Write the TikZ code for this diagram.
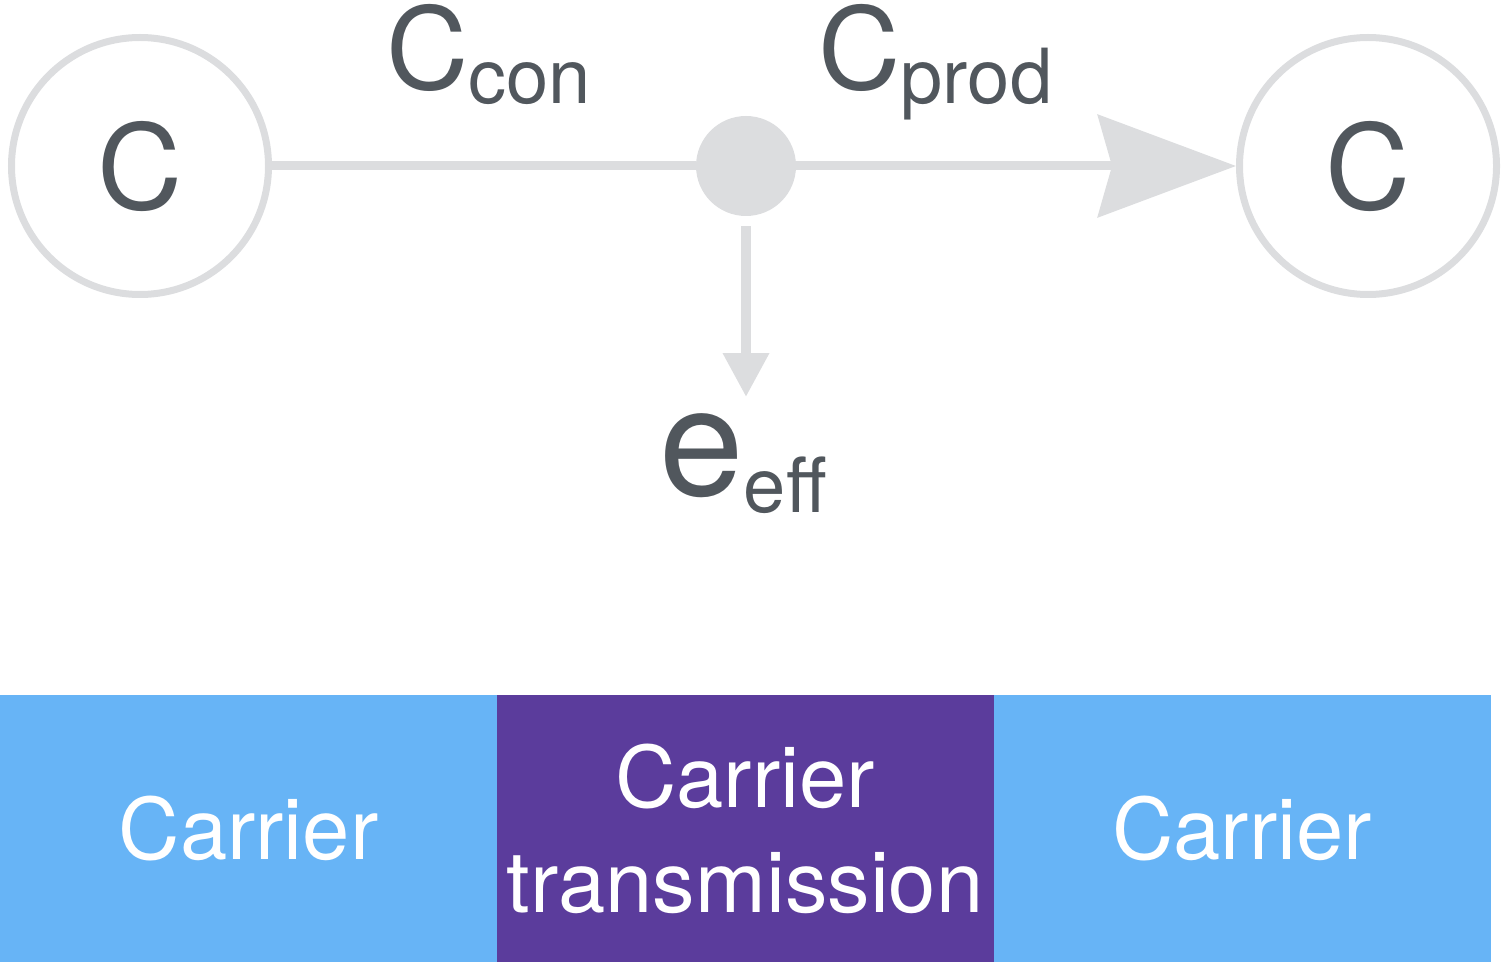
\documentclass[tikz,border=0pt]{standalone}
\usepackage{fontspec}
\setmainfont{TeX Gyre Heros}
\usetikzlibrary{arrows.meta}
\definecolor{lgray}{HTML}{DCDDDF}
\definecolor{tgray}{HTML}{51575D}
\definecolor{cblue}{HTML}{67B4F6}
\definecolor{cpurple}{HTML}{5B3C9C}
\begin{document}
\begin{tikzpicture}[x=0.5pt,y=-0.5pt,
 circ/.style={circle,draw=lgray,line width=3.5pt,minimum size=128.5pt,inner sep=0pt,text=tgray,font=\fontsize{59}{59}\selectfont},
 lbl/.style={anchor=base west,inner sep=0pt,text=tgray,font=\fontsize{57}{57}\selectfont},
 bar/.style={minimum width=248.5pt,minimum height=133.5pt,inner sep=0pt,text=white,align=center,font=\fontsize{42.5}{52.5}\selectfont},
 conn/.style={draw=lgray,line width=4.5pt}]
\useasboundingbox (0,0) rectangle (1502,962);
\node[circ] (L) at (140,166) {C};
\node[circ] (R) at (1368,166) {C};
\node[circle,fill=lgray,minimum size=50pt,inner sep=0pt] (D) at (746,166) {};
\draw[conn] (L) -- (D);
\draw[conn,-{Stealth[length=69pt,width=51pt,inset=7pt]}] (D) -- (R);
\coordinate (T) at (746,397);
\draw[conn,line width=5pt,-{Triangle[length=22pt,width=22pt]}] ([yshift=-5pt]D.south) -- (T);
\node[lbl] (cc) at (386,90) {C\raisebox{-7pt}{\fontsize{38}{38}\selectfont con}};
\node[lbl] (cp) at (818,90) {C\raisebox{-7pt}{\fontsize{38}{38}\selectfont prod}};
\node[lbl,font=\fontsize{76}{76}\selectfont] (ee) at (659,495) {e\raisebox{-8.5pt}{\fontsize{38}{38}\selectfont eff}};
\node[bar,fill=cblue] (b1) at (248.5,828.5) {Carrier};
\node[bar,fill=cpurple] (b2) at (745,828.5) {Carrier\\transmission};
\node[bar,fill=cblue] (b3) at (1242,828.5) {Carrier};
\end{tikzpicture}
\end{document}
